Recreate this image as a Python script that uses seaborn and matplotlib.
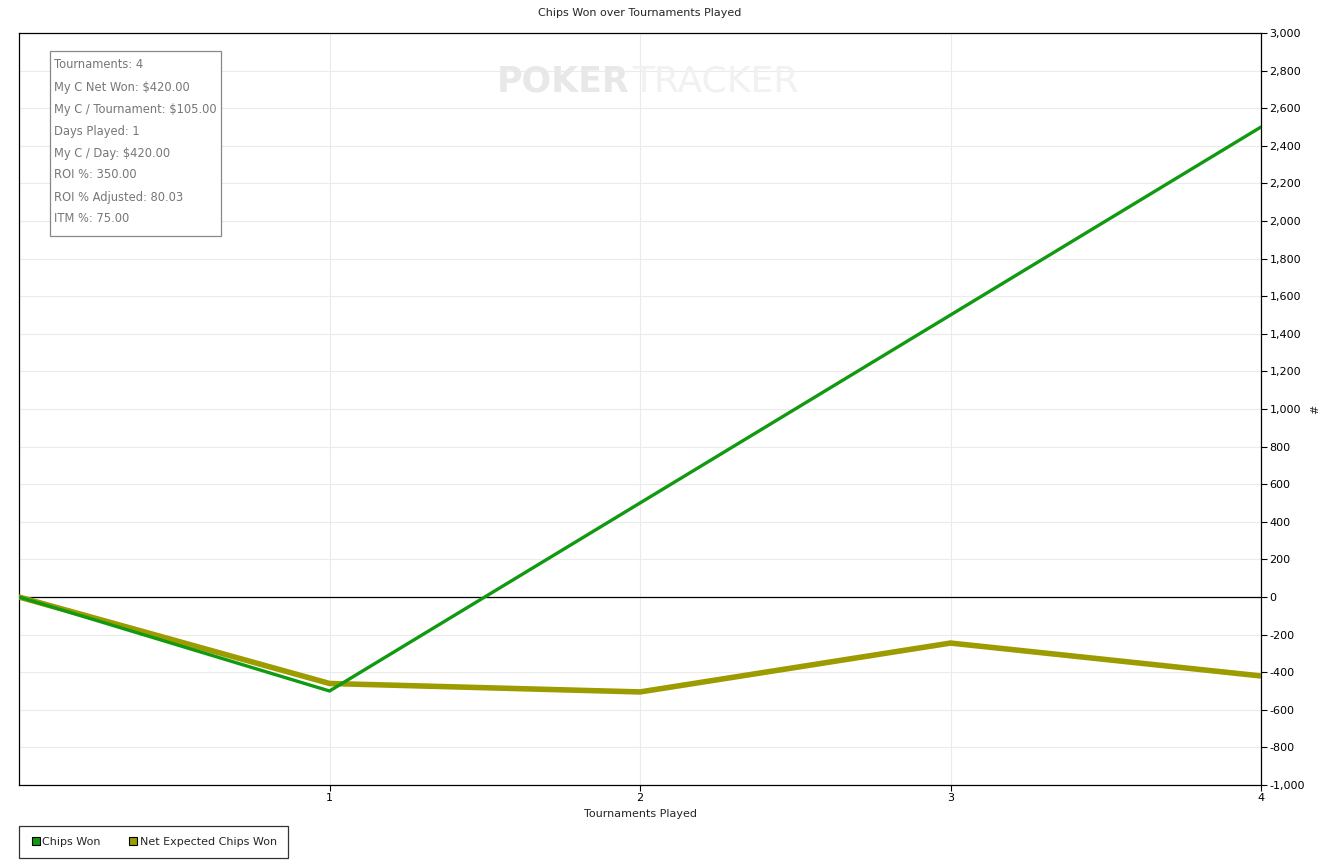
import matplotlib
matplotlib.use("Agg")
import matplotlib.pyplot as plt
import seaborn as sns
import pandas as pd
from matplotlib.ticker import FuncFormatter, MultipleLocator
from matplotlib.patches import Rectangle
from matplotlib.lines import Line2D

tournaments = [0, 1, 2, 3, 4]
chips_won = [0, -500, 500, 1500, 2500]
net_expected = [0, -460, -505, -245, -420]
stats_lines = ["Tournaments: 4", "My C Net Won: $420.00", "My C / Tournament: $105.00",
               "Days Played: 1", "My C / Day: $420.00", "ROI %: 350.00",
               "ROI % Adjusted: 80.03", "ITM %: 75.00"]

df = pd.DataFrame({
    "Tournaments Played": tournaments * 2,
    "value": net_expected + chips_won,
    "series": ["Net Expected Chips Won"] * 5 + ["Chips Won"] * 5,
})

sns.set_style("white")
plt.rcParams['font.family'] = ['DejaVu Sans']
W, H = 1335, 866
fig = plt.figure(figsize=(W / 100, H / 100), dpi=100)
ax = fig.add_axes([19 / W, 1 - 785 / H, (1261 - 19) / W, (785 - 33) / H])

green = "#119a11"
olive = "#9c9c00"

# watermark
fig.text(629 / W, 1 - 82 / H, "POKER", fontsize=25, fontweight="bold",
         color="#e8e8e8", ha="right", va="center", zorder=0.5)
fig.text(632 / W, 1 - 82 / H, "TRACKER", fontsize=26,
         color="#f1f1f1", ha="left", va="center", zorder=0.5)

sns.lineplot(data=df[df.series == "Net Expected Chips Won"], x="Tournaments Played", y="value",
             color=olive, linewidth=4.0, ax=ax, zorder=3)
sns.lineplot(data=df[df.series == "Chips Won"], x="Tournaments Played", y="value",
             color=green, linewidth=2.4, ax=ax, zorder=4)
ax.patch.set_alpha(0)

ax.set_xlim(0, 4)
ax.set_ylim(-1000, 3000)
ax.yaxis.tick_right()
ax.yaxis.set_label_position("right")
ax.yaxis.set_major_locator(MultipleLocator(200))
ax.yaxis.set_major_formatter(FuncFormatter(lambda v, p: f"{int(v):,}"))
ax.set_xticks([1, 2, 3, 4])
ax.tick_params(axis="both", labelsize=8, color="black", length=4, width=0.8,
               direction="out", pad=2, labelcolor="black")
ax.tick_params(axis="y", right=True, left=False)
ax.tick_params(axis="x", bottom=True)
ax.grid(True, color="#ebebeb", linewidth=0.8, zorder=0)
ax.axhline(0, color="black", linewidth=0.9, zorder=2)
for s in ax.spines.values():
    s.set_color("black")
    s.set_linewidth(0.9)
ax.set_xlabel("Tournaments Played", fontsize=8, labelpad=4)
ax.set_ylabel("#", fontsize=8, rotation=90, labelpad=4)
ax.set_title("Chips Won over Tournaments Played", fontsize=8, pad=12)
if ax.get_legend():
    ax.get_legend().remove()

# stats box
fig.patches.append(Rectangle((50 / W, 1 - 236 / H), (221 - 50) / W, (236 - 51) / H,
                             transform=fig.transFigure, facecolor="white",
                             edgecolor="#888888", linewidth=0.9, zorder=5))
for i, line in enumerate(stats_lines):
    fig.text(54 / W, 1 - (65 + 22 * i) / H, line, fontsize=8.3, color="#777777",
             ha="left", va="center", zorder=6)

# legend
handles = [Line2D([], [], marker="s", linestyle="none", markersize=6,
                  markerfacecolor=green, markeredgecolor="black", markeredgewidth=0.8),
           Line2D([], [], marker="s", linestyle="none", markersize=6,
                  markerfacecolor=olive, markeredgecolor="black", markeredgewidth=0.8)]
leg = fig.legend(handles, ["Chips Won", "Net Expected Chips Won"], ncol=2,
                 loc="lower left", bbox_to_anchor=(19 / W, 1 - 858 / H),
                 fontsize=8, frameon=True, fancybox=False, edgecolor="black",
                 handletextpad=0.1, columnspacing=2.4, handlelength=1.0,
                 borderpad=1.0, borderaxespad=0)
leg.get_frame().set_linewidth(0.9)

fig.savefig("out.png", dpi=100)
